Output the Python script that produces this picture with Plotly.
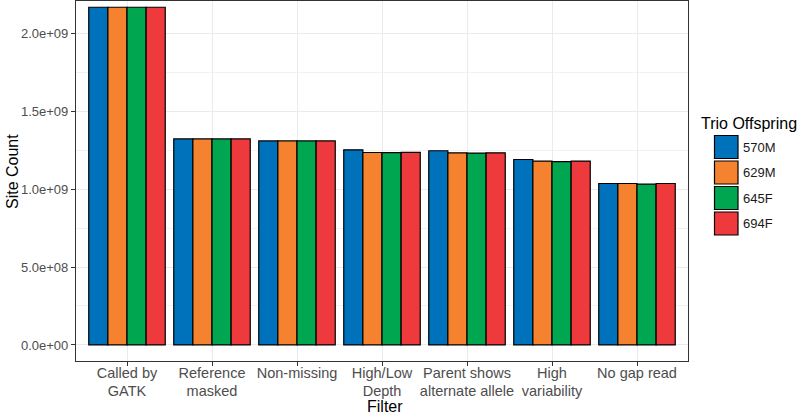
import plotly.graph_objects as go

categories = ["Called by<br>GATK", "Reference<br>masked", "Non-missing", "High/Low<br>Depth",
              "Parent shows<br>alternate allele", "High<br>variability", "No gap read"]
series_names = ["570M", "629M", "645F", "694F"]
series_colors = ["#0072BB", "#F4822F", "#00A650", "#EE3A3D"]
values_570M = [2.167e9, 1.322e9, 1.309e9, 1.252e9, 1.246e9, 1.190e9, 1.036e9]
values_629M = [2.167e9, 1.322e9, 1.309e9, 1.235e9, 1.233e9, 1.180e9, 1.036e9]
values_645F = [2.167e9, 1.322e9, 1.309e9, 1.234e9, 1.231e9, 1.176e9, 1.032e9]
values_694F = [2.167e9, 1.322e9, 1.309e9, 1.236e9, 1.233e9, 1.180e9, 1.036e9]
series_values = [values_570M, values_629M, values_645F, values_694F]
y_tick_vals = [0, 5e8, 1e9, 1.5e9, 2e9]
y_tick_text = ["0.0e+00", "5.0e+08", "1.0e+09", "1.5e+09", "2.0e+09"]

FONT = "Liberation Sans, Arial, Helvetica, sans-serif"

# plot area in pixels
L, R, T, B = 76, 688, 1, 361
W, H = R - L, B - T


def px(x):
    return (x - L) / W


def py(y):
    return (B - y) / H


fig = go.Figure()
for name, color, vals in zip(series_names, series_colors, series_values):
    fig.add_trace(go.Bar(
        x=categories, y=vals, name=name,
        marker=dict(color=color, line=dict(color="black", width=1.2)),
        showlegend=False,
    ))

# ggplot-like legend
fig.add_annotation(xref="paper", yref="paper", x=px(699), xanchor="left",
                   y=py(123), yanchor="middle", text="Trio Offspring",
                   showarrow=False, font=dict(family=FONT, size=16, color="black"))
for i, (name, color) in enumerate(zip(series_names, series_colors)):
    yc = 147 + i * 25.5
    fig.add_shape(type="rect", xref="paper", yref="paper",
                  x0=px(714.5), x1=px(738), y0=py(yc + 11.5), y1=py(yc - 11.5),
                  fillcolor=color, line=dict(color="black", width=1.2))
    fig.add_annotation(xref="paper", yref="paper", x=px(741), xanchor="left",
                       y=py(yc), yanchor="middle", text=name,
                       showarrow=False, font=dict(family=FONT, size=13, color="#1A1A1A"))

# axis titles
fig.add_annotation(xref="paper", yref="paper", x=px(385), xanchor="center",
                   y=py(406), yanchor="middle", text="Filter",
                   showarrow=False, font=dict(family=FONT, size=16, color="black"))
fig.add_annotation(xref="paper", yref="paper", x=px(12), xanchor="center",
                   y=py(172), yanchor="middle", text="Site Count", textangle=-90,
                   showarrow=False, font=dict(family=FONT, size=16, color="black"))

fig.update_layout(
    width=797, height=414,
    margin=dict(l=L, r=797 - R, t=T, b=414 - B, autoexpand=False),
    paper_bgcolor="white", plot_bgcolor="white",
    barmode="group", bargap=0.1, bargroupgap=0,
    font=dict(family=FONT, size=12, color="#4D4D4D"),
)
fig.update_xaxes(
    range=[-0.6, 6.6], automargin=False,
    showline=True, linecolor="#333333", linewidth=1.2, mirror=True,
    showgrid=True, gridcolor="#EBEBEB", gridwidth=1,
    ticks="outside", ticklen=4, tickcolor="#333333",
    ticklabelstandoff=-6,
    tickfont=dict(family=FONT, size=14.5, color="#4D4D4D"),
)
fig.update_yaxes(
    range=[-0.103e9, 2.207e9], automargin=False,
    tickvals=y_tick_vals, ticktext=y_tick_text,
    showline=True, linecolor="#333333", linewidth=1.2, mirror=True,
    showgrid=True, gridcolor="#EBEBEB", gridwidth=1.1,
    minor=dict(tickvals=[2.5e8, 7.5e8, 1.25e9, 1.75e9], showgrid=True,
               gridcolor="#F2F2F2", gridwidth=0.6, ticks=""),
    zeroline=False,
    ticks="outside", ticklen=4, tickcolor="#333333",
    tickfont=dict(family=FONT, size=13, color="#4D4D4D"),
)

fig.write_html("out.html", config={"displayModeBar": False},
               post_script="document.body.style.margin='0';")
